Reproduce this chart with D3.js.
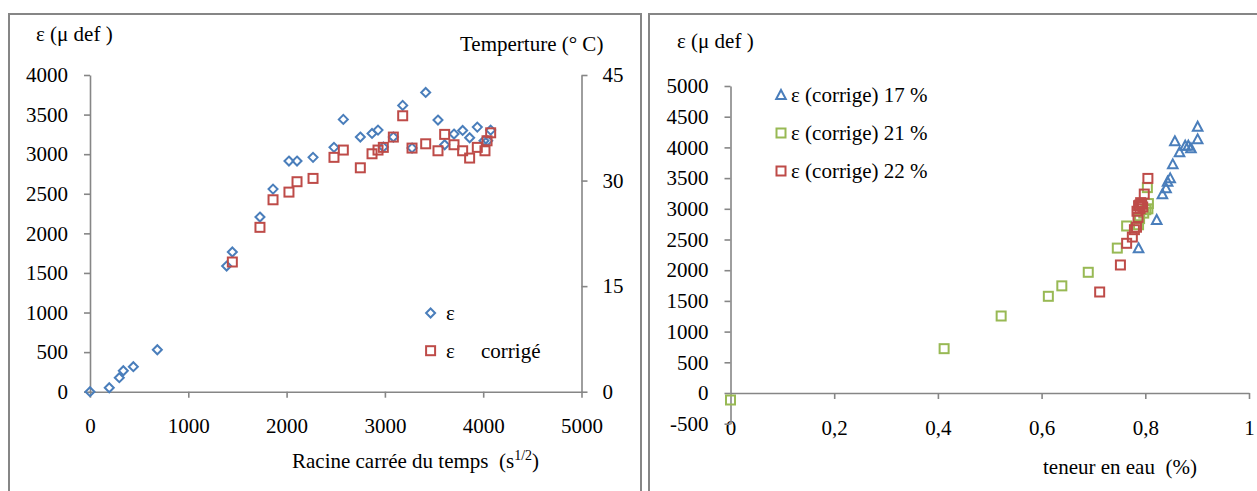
<!DOCTYPE html>
<html lang="fr">
<head>
<meta charset="UTF-8">
<title>ε en fonction du temps et de la teneur en eau</title>
<style>
    body { margin: 0; background: #fff; }
    svg { display: block; }
    svg text { font-family: "Liberation Serif", Tinos, "DejaVu Serif", serif !important; fill: #000; }
    .axis path, .axis line { stroke: #868686; stroke-width: 1.6; }
</style>
<script src="https://d3js.org/d3.v7.min.js"></script>
</head>
<body>
<svg width="1257" height="491"></svg>
<script>
// --- graphique de gauche : ε et ε corrigé en fonction de la racine du temps
const leftXTicks = [0, 1000, 2000, 3000, 4000, 5000];
const leftYTicks = [0, 500, 1000, 1500, 2000, 2500, 3000, 3500, 4000];
const tempTicks = [0, 15, 30, 45];

const epsTime = [0, 196, 298, 339, 441, 685, 1390, 1448, 1729, 1862, 2024, 2106, 2269, 2482, 2577,
    2750, 2869, 2930, 2984, 3086, 3181, 3276, 3415, 3540, 3608, 3703, 3791, 3862, 3940, 4008, 4046, 4076];
const epsValues = [0, 50, 177, 265, 316, 530, 1587, 1764, 2206, 2559, 2913, 2913, 2960, 3086, 3439,
    3216, 3262, 3304, 3090, 3216, 3616, 3077, 3780, 3431, 3119, 3254, 3300, 3207, 3342, 3169, 3169, 3304];

const corrTime = [1448, 1729, 1862, 2024, 2106, 2269, 2482, 2577, 2750, 2869, 2930, 2984, 3086,
    3181, 3276, 3415, 3540, 3608, 3703, 3791, 3862, 3940, 4018, 4039, 4076];
const corrValues = [1638, 2076, 2424, 2521, 2652, 2694, 2960, 3052, 2828, 3005, 3052, 3086, 3216,
    3485, 3077, 3131, 3043, 3250, 3119, 3043, 2951, 3086, 3043, 3169, 3270];

// --- graphique de droite : ε corrigé en fonction de la teneur en eau
const rightXTicks = [0, 0.2, 0.4, 0.6, 0.8, 1];
const rightXLabels = ["0", "0,2", "0,4", "0,6", "0,8", "1"];
const rightYTicks = [-500, 0, 500, 1000, 1500, 2000, 2500, 3000, 3500, 4000, 4500, 5000];

const w17 = [0.901, 0.901, 0.857, 0.877, 0.883, 0.888, 0.866, 0.853, 0.848, 0.843, 0.840, 0.833, 0.822, 0.787];
const e17 = [4337, 4131, 4100, 4028, 4028, 3985, 3920, 3724, 3496, 3442, 3334, 3236, 2818, 2357];

const w21 = [0, 0.412, 0.522, 0.613, 0.639, 0.690, 0.746, 0.764, 0.787, 0.789, 0.797, 0.801, 0.805, 0.806, 0.804];
const e21 = [-114, 722, 1254, 1575, 1745, 1966, 2360, 2720, 2740, 2840, 2930, 2985, 3000, 3085, 3345];

const w22 = [0.712, 0.752, 0.764, 0.775, 0.779, 0.783, 0.786, 0.784, 0.787, 0.790, 0.793, 0.795, 0.791, 0.789, 0.798, 0.805];
const e22 = [1645, 2085, 2438, 2540, 2660, 2700, 2860, 2960, 3050, 3000, 3080, 3030, 3100, 3060, 3240, 3495];

const legendRight = ["ε (corrige) 17 %", "ε (corrige) 21 %", "ε (corrige) 22 %"];

const BLUE = "#4A7EBB", RED = "#BE4B48", GREEN = "#98B954";
const FONT = "Liberation Serif, Tinos, DejaVu Serif, serif";
const FS = 21;

const svg = d3.select("svg");

// cadres des deux graphiques
svg.append("rect").attr("x", 9).attr("y", 14).attr("width", 632).attr("height", 500)
    .attr("fill", "none").attr("stroke", "#868686").attr("stroke-width", 2);
svg.append("rect").attr("x", 649).attr("y", 14).attr("width", 640).attr("height", 500)
    .attr("fill", "none").attr("stroke", "#868686").attr("stroke-width", 2);

// formes des marqueurs
const diamond = (g, x, y, c) => g.append("path")
    .attr("d", `M${x},${y - 4.5}L${x + 4.5},${y}L${x},${y + 4.5}L${x - 4.5},${y}Z`)
    .attr("fill", "none").attr("stroke", c).attr("stroke-width", 2);
const square = (g, x, y, c) => g.append("rect")
    .attr("x", x - 4.5).attr("y", y - 4.5).attr("width", 9).attr("height", 9)
    .attr("fill", "none").attr("stroke", c).attr("stroke-width", 2);
const triangle = (g, x, y, c) => g.append("path")
    .attr("d", `M${x},${y - 5}L${x + 4.8},${y + 4}L${x - 4.8},${y + 4}Z`)
    .attr("fill", "none").attr("stroke", c).attr("stroke-width", 2);

const label = (x, y, s) => svg.append("text").attr("x", x).attr("y", y)
    .attr("font-family", FONT).attr("font-size", FS).text(s);

// ================= gauche =================
const xL = d3.scaleLinear().domain([0, 5000]).range([90, 581.5]);
const yL = d3.scaleLinear().domain([0, 4000]).range([391.7, 75]);
const yT = d3.scaleLinear().domain([0, 45]).range([391.7, 75]);

svg.append("g").attr("class", "axis").attr("transform", "translate(0,391.7)")
    .call(d3.axisBottom(xL).tickValues(leftXTicks).tickFormat(d => String(d)).tickSize(6).tickPadding(20).tickSizeOuter(0));
svg.append("g").attr("class", "axis").attr("transform", "translate(90,0)")
    .call(d3.axisLeft(yL).tickValues(leftYTicks).tickFormat(d => String(d)).tickSize(6).tickPadding(16).tickSizeOuter(0));
svg.append("g").attr("class", "axis").attr("transform", "translate(581.5,0)")
    .call(d3.axisRight(yT).tickValues(tempTicks).tickFormat(d => String(d)).tickSize(6).tickPadding(15).tickSizeOuter(0));

const gL = svg.append("g");
epsTime.forEach((t, i) => diamond(gL, xL(t), yL(epsValues[i]), BLUE));
corrTime.forEach((t, i) => square(gL, xL(t), yL(corrValues[i]), RED));

label(36, 41, "ε (μ def )");
label(460, 51, "Temperture (° C)");
const xt = label(292, 468, "").attr("xml:space", "preserve");
xt.append("tspan").text("Racine carrée du temps  (s");
xt.append("tspan").attr("font-size", 14).attr("dy", -8).text("1/2");
xt.append("tspan").attr("dy", 8).text(")");

// légende gauche
diamond(svg, 430.6, 313, BLUE);
label(446, 320, "ε");
square(svg, 430.6, 350.7, RED);
label(446, 358, "ε");
label(481, 358, "corrigé");

// ================= droite =================
const xR = d3.scaleLinear().domain([0, 1]).range([730.5, 1249]);
const yR = d3.scaleLinear().domain([-500, 5000]).range([423.7, 86]);

svg.append("g").attr("class", "axis").attr("transform", `translate(0,${yR(0)})`)
    .call(d3.axisBottom(xR).tickValues(rightXTicks).tickFormat((d, i) => rightXLabels[i])
        .tickSize(6).tickPadding(21).tickSizeOuter(0))
    .call(g => g.selectAll(".tick").filter(d => d === 0).select("line").remove());
svg.append("g").attr("class", "axis").attr("transform", "translate(730.5,0)")
    .call(d3.axisLeft(yR).tickValues(rightYTicks).tickFormat(d => String(d)).tickSize(6).tickPadding(16).tickSizeOuter(0));

svg.selectAll(".axis").attr("font-family", FONT).attr("font-size", FS);

const gR = svg.append("g");
w21.forEach((w, i) => square(gR, xR(w), yR(e21[i]), GREEN));
w22.forEach((w, i) => square(gR, xR(w), yR(e22[i]), RED));
w17.forEach((w, i) => triangle(gR, xR(w), yR(e17[i]), BLUE));

label(677, 48, "ε (μ def )");
label(1043, 474, "teneur en eau  (%)").attr("xml:space", "preserve");

// légende droite
const legMarks = [triangle, square, square];
const legCols = [BLUE, GREEN, RED];
legendRight.forEach((lab, i) => {
    const y = 95 + i * 38;
    legMarks[i](svg, 781, y, legCols[i]);
    label(791, y + 7, lab);
});
</script>
</body>
</html>
